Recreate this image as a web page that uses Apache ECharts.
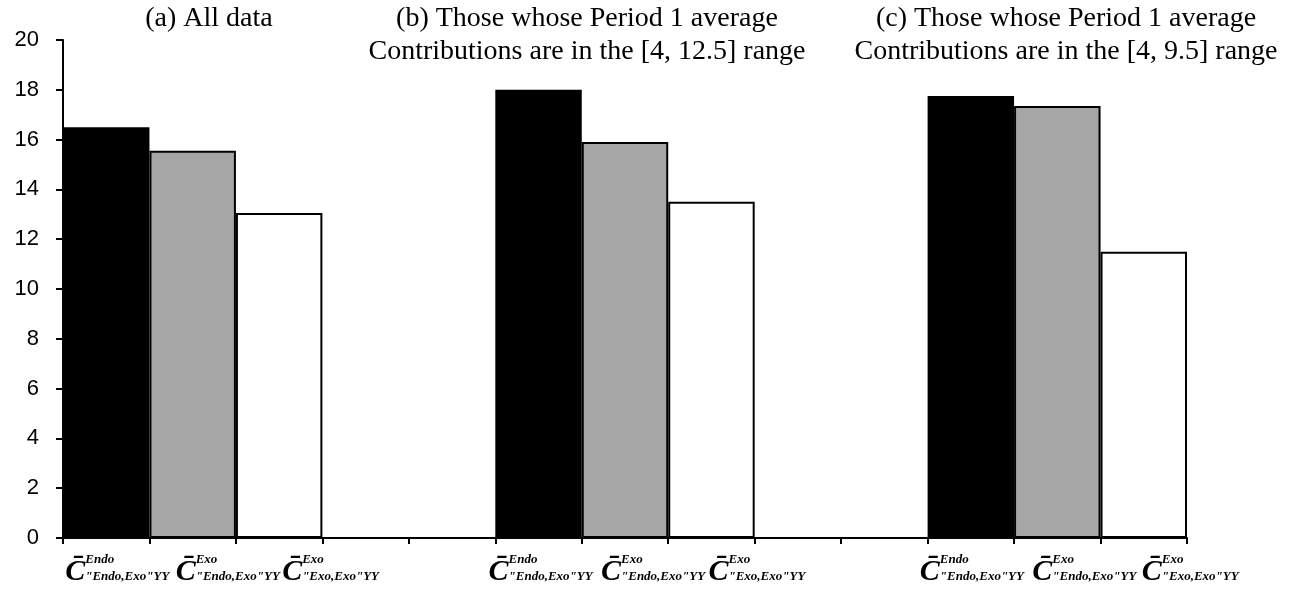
<!DOCTYPE html>
<html>
<head>
<meta charset="utf-8">
<script src="https://cdn.jsdelivr.net/npm/echarts@6/dist/echarts.min.js"></script>
<style>
  html, body { margin: 0; padding: 0; background: #fff; }
  #chart { width: 1291px; height: 589px; }
</style>
</head>
<body>
<div id="chart"></div>
<script>
// Mean contributions per condition, three samples
const groupA = [16.5, 15.55, 13.05];   // (a) All data
const groupB = [18.0, 15.9, 13.5];     // (b) [4, 12.5] range
const groupC = [17.75, 17.35, 11.5];   // (c) [4, 9.5] range

// Bar label parts: superscript and subscript of C-bar
const supLabels = ['Endo', 'Exo', 'Exo'];
const subLabels = ['"Endo,Exo"YY', '"Endo,Exo"YY', '"Exo,Exo"YY'];

const panelTitles = [
  '(a) All data',
  '(b) Those whose Period 1 average\nContributions are in the [4, 12.5] range',
  '(c) Those whose Period 1 average\nContributions are in the [4, 9.5] range'
];

const yMin = 0, yMax = 20, yStep = 2;

// ---- build category slots: 3 bars per panel, two empty slots between panels
const fills = ['#000000', '#a6a6a6', '#ffffff'];
const groups = [groupA, groupB, groupC];
const categories = [];
const slotPos = [];     // position within panel (0..2) or -1 for empty slot
const barData = [];
groups.forEach((g, gi) => {
  g.forEach((v, k) => {
    categories.push('p' + gi + '_' + k);
    slotPos.push(k);
    barData.push({ value: v, itemStyle: { color: fills[k] } });
  });
  if (gi < groups.length - 1) {
    for (let e = 0; e < 2; e++) {
      categories.push('gap' + gi + '_' + e);
      slotPos.push(-1);
      barData.push('-');
    }
  }
});

// leading pad (px) for each formula label, nudging it right of its slot centre
const labelPad = [28, 76, 116, 0, 0, 10, 62, 104, 0, 0, 8, 60, 106];

const mathFont = 'Liberation Serif';
const cW = 20, txtW = 90, rowH = 17;
const rich = {
  gap: { width: cW, fontSize: 13, lineHeight: rowH, align: 'left' },
  C: {
    fontFamily: mathFont, fontStyle: 'italic', fontWeight: 'bold',
    fontSize: 30, lineHeight: rowH, height: 8, verticalAlign: 'top',
    width: cW, color: '#000', align: 'left'
  },
  sup: {
    fontFamily: mathFont, fontStyle: 'italic', fontWeight: 'bold',
    fontSize: 13, lineHeight: rowH, width: txtW, color: '#000', align: 'left'
  },
  sub: {
    fontFamily: mathFont, fontStyle: 'italic', fontWeight: 'bold',
    fontSize: 13, lineHeight: rowH, width: txtW, color: '#000', align: 'left'
  }
};
labelPad.forEach((p, i) => {
  rich['pd' + i] = { width: p, fontSize: 13, lineHeight: rowH, align: 'left' };
});

const chart = echarts.init(document.getElementById('chart'), null, { renderer: 'canvas' });

const titleCenters = [209, 587, 1066];

chart.setOption({
  animation: false,
  backgroundColor: '#ffffff',
  grid: { left: 63, right: 104, top: 40, bottom: 51, containLabel: false },
  graphic: panelTitles.map((t, i) => ({
    type: 'text',
    x: titleCenters[i],
    y: 2,
    style: {
      text: t,
      fontFamily: 'Liberation Serif',
      fontSize: 28,
      lineHeight: 33,
      fill: '#000',
      align: 'center',
      verticalAlign: 'top'
    }
  })),
  xAxis: {
    type: 'category',
    data: categories,
    boundaryGap: true,
    axisLine: { show: true, lineStyle: { color: '#000', width: 2 } },
    axisTick: { show: true, interval: 0, length: 6, inside: false, lineStyle: { color: '#000', width: 2 } },
    axisLabel: {
      interval: 0,
      margin: 13,
      rich: rich,
      formatter: function (value, index) {
        const k = slotPos[index];
        if (k < 0) return '';
        const pad = '{pd' + index + '|}';
        return pad + '{gap|}{sup|' + supLabels[k] + '}\n' +
               pad + '{C|C\u0304}{sub|' + subLabels[k] + '}';
      }
    },
    splitLine: { show: false }
  },
  yAxis: {
    type: 'value',
    min: yMin, max: yMax, interval: yStep,
    axisLine: { show: true, lineStyle: { color: '#000', width: 2 } },
    axisTick: { show: true, length: 7, lineStyle: { color: '#000', width: 2 } },
    axisLabel: { color: '#000', fontFamily: 'Liberation Sans', fontSize: 22, margin: 24 },
    splitLine: { show: false }
  },
  series: [{
    type: 'bar',
    data: barData,
    barCategoryGap: '0%',
    itemStyle: { borderColor: '#000', borderWidth: 2 }
  }]
});
</script>
</body>
</html>
